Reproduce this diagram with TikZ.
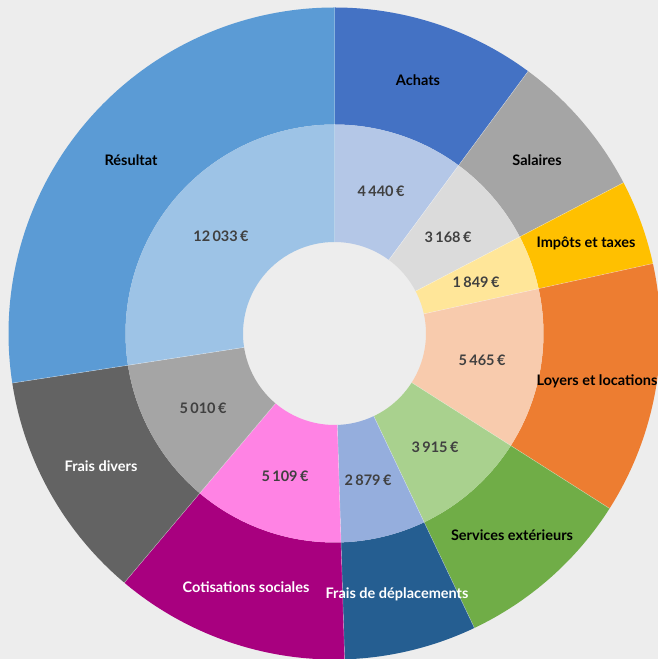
\documentclass[tikz,border=0pt]{standalone}
\usepackage{fontspec}
\setmainfont{Lato}
\definecolor{bg}{HTML}{EDEDED}
\definecolor{cAo}{HTML}{4472C4}\definecolor{cAi}{HTML}{B4C7E7}
\definecolor{cSo}{HTML}{A5A5A5}\definecolor{cSi}{HTML}{DBDBDB}
\definecolor{cIo}{HTML}{FFC000}\definecolor{cIi}{HTML}{FFE699}
\definecolor{cLo}{HTML}{ED7D31}\definecolor{cLi}{HTML}{F8CBAD}
\definecolor{cEo}{HTML}{70AD47}\definecolor{cEi}{HTML}{A9D18E}
\definecolor{cDo}{HTML}{255E91}\definecolor{cDi}{HTML}{95AEDD}
\definecolor{cCo}{HTML}{A8007F}\definecolor{cCi}{HTML}{FF83E4}
\definecolor{cFo}{HTML}{636363}\definecolor{cFi}{HTML}{A5A5A5}
\definecolor{cRo}{HTML}{5B9BD5}\definecolor{cRi}{HTML}{9DC3E6}
\definecolor{numtxt}{HTML}{404040}
\newcommand{\ringsector}[5]{% color, start, end, r1, r2
  \fill[#1] ([shift={(#2:#4)}]ctr) arc[start angle=#2, end angle=#3, radius=#4]
    -- ([shift={(#3:#5)}]ctr) arc[start angle=#3, end angle=#2, radius=#5] -- cycle;
  \draw[white, line width=0.4pt, opacity=0.5] ([shift={(#2:#4)}]ctr) -- ([shift={(#2:#5)}]ctr);
}
\begin{document}
\begin{tikzpicture}[x=1pt,y=1pt,
  outlab/.style={font=\fontsize{14.5}{17}\selectfont\bfseries, text=black, inner sep=0pt},
  outlabw/.style={outlab, text=white},
  inlab/.style={font=\fontsize{14.5}{17}\selectfont\bfseries, text=numtxt, inner sep=0pt}]
\fill[bg] (0,0) rectangle (658,659);
\useasboundingbox (0,0) rectangle (658,659);
\coordinate (ctr) at (334.5,325.5);
% outer ring r 209..326, inner ring r 91.5..209
\def\ri{91.5}\def\rm{209}\def\ro{326}
\ringsector{cAo}{90}{53.563}{\ro}{\rm}
\ringsector{cSo}{53.563}{27.565}{\ro}{\rm}
\ringsector{cIo}{27.565}{12.391}{\ro}{\rm}
\ringsector{cLo}{12.391}{-32.457}{\ro}{\rm}
\ringsector{cEo}{-32.457}{-64.585}{\ro}{\rm}
\ringsector{cDo}{-64.585}{-88.211}{\ro}{\rm}
\ringsector{cCo}{-88.211}{-130.138}{\ro}{\rm}
\ringsector{cFo}{-130.138}{-171.252}{\ro}{\rm}
\ringsector{cRo}{-171.252}{-270}{\ro}{\rm}
\ringsector{cAi}{90}{53.563}{\rm}{\ri}
\ringsector{cSi}{53.563}{27.565}{\rm}{\ri}
\ringsector{cIi}{27.565}{12.391}{\rm}{\ri}
\ringsector{cLi}{12.391}{-32.457}{\rm}{\ri}
\ringsector{cEi}{-32.457}{-64.585}{\rm}{\ri}
\ringsector{cDi}{-64.585}{-88.211}{\rm}{\ri}
\ringsector{cCi}{-88.211}{-130.138}{\rm}{\ri}
\ringsector{cFi}{-130.138}{-171.252}{\rm}{\ri}
\ringsector{cRi}{-171.252}{-270}{\rm}{\ri}
% outer labels
\node[outlab]  (lA) at (418,579) {Achats};
\node[outlab]  (lS) at (537,499) {Salaires};
\node[outlab]  (lI) at (586,416) {Impôts et taxes};
\node[outlab]  (lL) at (597,278) {Loyers et locations};
\node[outlab]  (lE) at (512,124) {Services extérieurs};
\node[outlabw] (lD) at (397,65)  {Frais de déplacements};
\node[outlabw] (lC) at (246,72)  {Cotisations sociales};
\node[outlabw] (lF) at (101,193) {Frais divers};
\node[outlab]  (lR) at (131,499) {Résultat};
% inner labels
\node[inlab] (nA) at (381,468) {4\,440\,€};
\node[inlab] (nS) at (448,422) {3\,168\,€};
\node[inlab] (nI) at (476,377) {1\,849\,€};
\node[inlab] (nL) at (482,299) {5\,465\,€};
\node[inlab] (nE) at (435,212) {3\,915\,€};
\node[inlab] (nD) at (368,179) {2\,879\,€};
\node[inlab] (nC) at (285,183) {5\,109\,€};
\node[inlab] (nF) at (203,251) {5\,010\,€};
\node[inlab] (nR) at (221,423) {12\,033\,€};
\end{tikzpicture}
\end{document}
